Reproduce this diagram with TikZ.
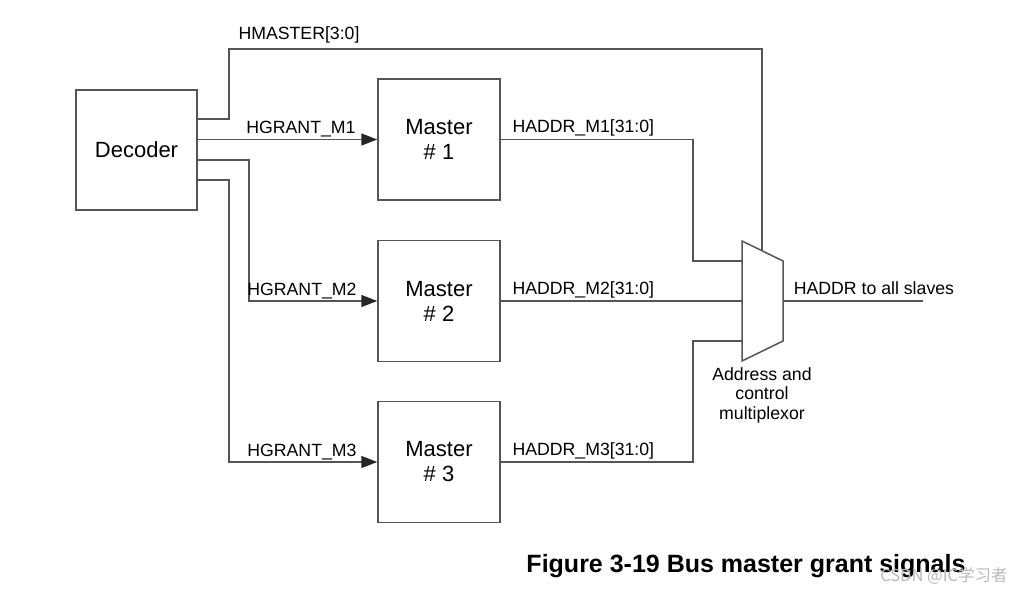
\documentclass[tikz,border=0pt]{standalone}
\usepackage{fontspec}
\setmainfont{Liberation Sans}
\newfontfamily\cjkfont{Noto Sans CJK SC}
\usetikzlibrary{arrows.meta,calc}
\definecolor{wire}{HTML}{555555}

\begin{document}
\begin{tikzpicture}[x=1pt,y=-1pt,
  ln/.style={draw=wire,line width=1.5pt},
  sig/.style={ln,-{Triangle[length=16pt,width=12pt,color=black!85]}},
  blk/.style={ln,minimum width=122pt,minimum height=121pt,inner sep=0pt,align=center,font=\fontsize{22}{25}\selectfont},
  lbl/.style={inner sep=0pt,font=\fontsize{17.7}{19.5}\selectfont}]
\useasboundingbox (0,0) rectangle (1025,594);
\node[blk,minimum width=121pt,minimum height=120pt] (dec) at (136.5,150) {Decoder};
\node[blk] (m1) at (439,139.5) {Master\\\# 1};
\node[blk] (m2) at (439,301)   {Master\\\# 2};
\node[blk] (m3) at (439,462)   {Master\\\# 3};
% multiplexor
\coordinate (mux-tl) at (742,241);
\coordinate (mux-tr) at (783,261);
\coordinate (mux-br) at (783,341);
\coordinate (mux-bl) at (742,361);
\coordinate (mux-a) at (742,261);
\coordinate (mux-b) at (742,301);
\coordinate (mux-c) at (742,341);
\coordinate (mux-s) at (762,251);
\coordinate (mux-o) at (783,301);
\coordinate (out) at (923,301);
\draw[ln] (mux-tl) -- (mux-tr) -- (mux-br) -- (mux-bl) -- cycle;
\node[lbl,align=center] (muxlbl) at (762,395) {Address and\\control\\multiplexor};
% grant lines
\draw[ln] (dec.east) ++(0,-31) -- ++(31,0) -- ++(0,-70) -| (mux-s)
  node[lbl,pos=0,anchor=base west,xshift=9pt,yshift=9pt] {HMASTER[3:0]};
\draw[sig] (dec.east |- m1) -- (m1.west)
  node[lbl,anchor=base east,xshift=-21pt,yshift=6pt] {HGRANT\_M1};
\draw[sig] (dec.east) ++(0,10) -- ++(51,0) |- (m2.west)
  node[lbl,anchor=base east,xshift=-20pt,yshift=6pt] {HGRANT\_M2};
\draw[sig] (dec.east) ++(0,30) -- ++(31,0) |- (m3.west)
  node[lbl,anchor=base east,xshift=-20pt,yshift=6pt] {HGRANT\_M3};
% address lines
\draw[ln] (m1.east) node[lbl,anchor=base west,xshift=11pt,yshift=7pt] {HADDR\_M1[31:0]}
  -- ++(192,0) |- (mux-a);
\draw[ln] (m2.east) node[lbl,anchor=base west,xshift=11pt,yshift=7pt] {HADDR\_M2[31:0]}
  -- (mux-b);
\draw[ln] (m3.east) node[lbl,anchor=base west,xshift=11pt,yshift=7pt] {HADDR\_M3[31:0]}
  -- ++(192,0) |- (mux-c);
\draw[ln] (mux-o) node[lbl,anchor=base west,xshift=10pt,yshift=7pt] {HADDR to all slaves}
  -- (out);
\node[font=\fontsize{25}{28}\selectfont\bfseries] (cap) at (746,566) {Figure 3-19 Bus master grant signals};
\node[font=\cjkfont\fontsize{16.5}{18}\selectfont,text=gray!55] (wm) at (944,576) {CSDN @IC学习者};
\end{tikzpicture}
\end{document}
